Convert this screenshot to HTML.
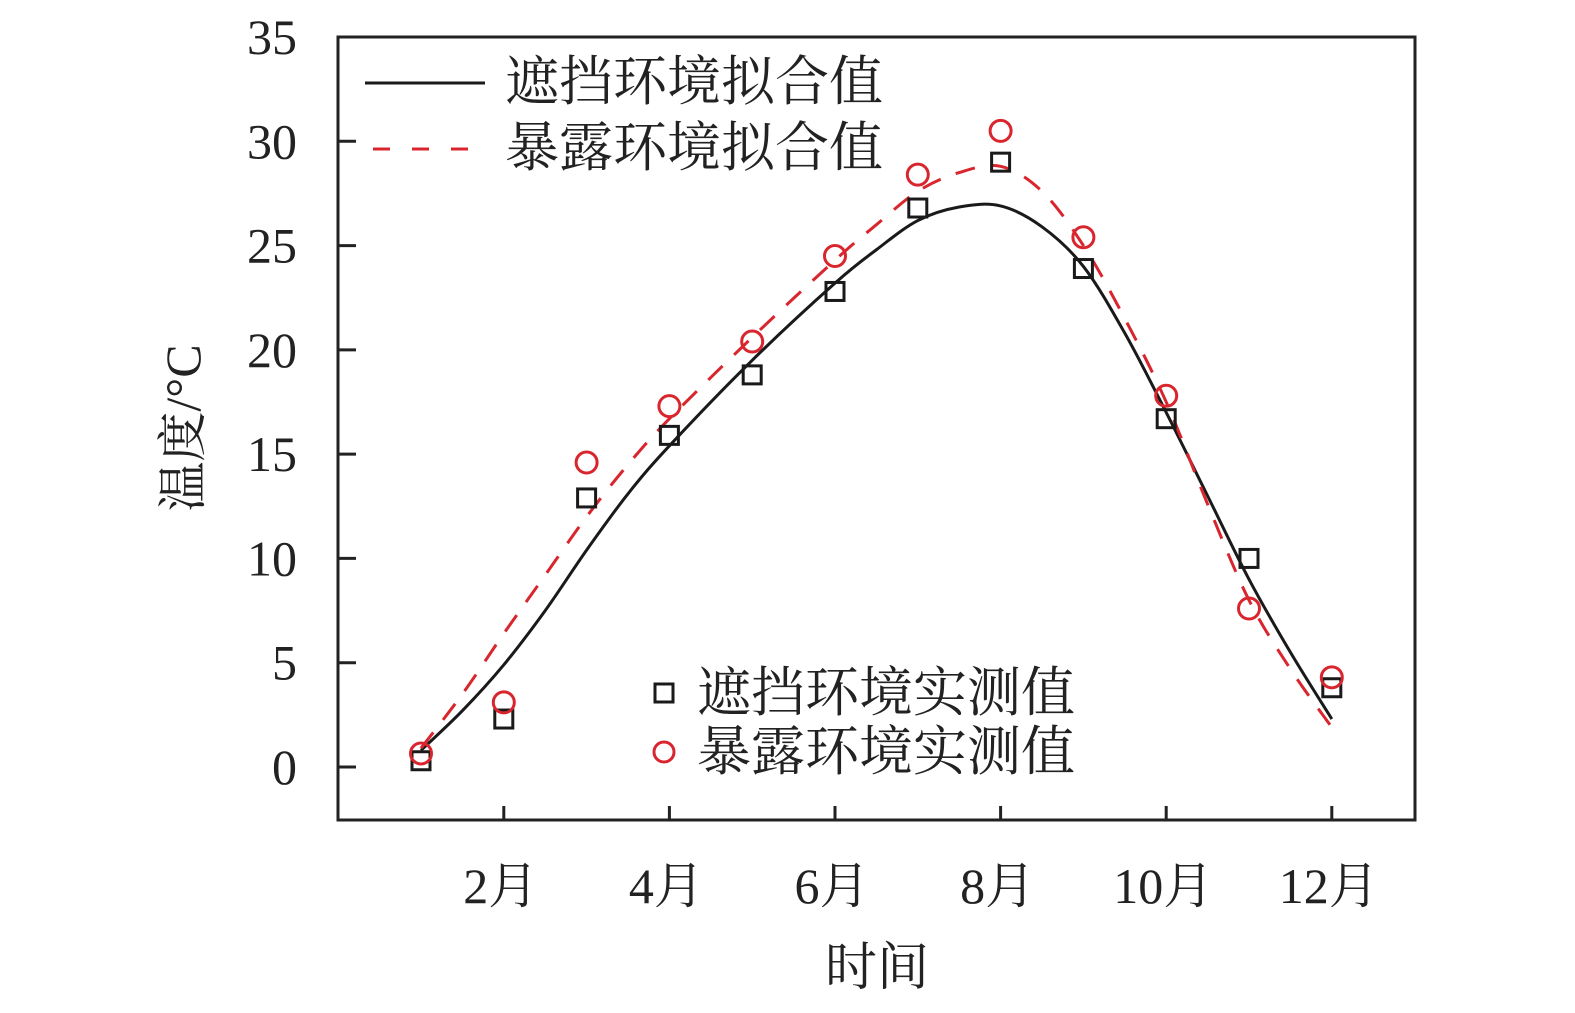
<!DOCTYPE html>
<html><head><meta charset="utf-8">
<style>
html,body{margin:0;padding:0;background:#fff;overflow:hidden;}
svg text{font-family:"Liberation Serif","Noto Serif CJK SC",serif;fill:#222;}
</style></head>
<body>
<svg id="s" width="1575" height="1013" viewBox="0 0 1575 1013" xmlns="http://www.w3.org/2000/svg" style="display:block">
<rect x="338" y="37" width="1077" height="783" fill="none" stroke="#222" stroke-width="3"/>
<g stroke="#222" stroke-width="3" id="ticks"></g>
<g font-size="50" text-anchor="end" id="ylab"></g>
<g font-size="50" text-anchor="middle" id="xlab"></g>
<text x="877" y="985" font-size="52" text-anchor="middle">时间</text>
<text transform="translate(200,428) rotate(-90)" font-size="50" text-anchor="middle">温度/°C</text>
<path id="black" fill="none" stroke="#1a1a1a" stroke-width="3"/>
<path id="red" fill="none" stroke="#d9262e" stroke-width="3" stroke-dasharray="20,16"/>
<g id="pts"></g>
<line x1="365" y1="83" x2="485" y2="83" stroke="#1a1a1a" stroke-width="3"/>
<line x1="373" y1="149" x2="485" y2="149" stroke="#d9262e" stroke-width="3" stroke-dasharray="17,22"/>
<text x="505" y="100" font-size="54">遮挡环境拟合值</text>
<text x="505" y="166" font-size="54">暴露环境拟合值</text>
<rect x="655" y="684" width="18" height="18" fill="none" stroke="#1a1a1a" stroke-width="3"/>
<circle cx="664" cy="752" r="10" fill="none" stroke="#d9262e" stroke-width="3"/>
<text x="697" y="711" font-size="54">遮挡环境实测值</text>
<text x="697" y="770" font-size="54">暴露环境实测值</text>
</svg>
<script>
var NS="http://www.w3.org/2000/svg";
function X(m){return 421+(m-1)*82.8;}
function Y(v){return 767-v*20.857;}
function el(t,a,p){var e=document.createElementNS(NS,t);for(var k in a)e.setAttribute(k,a[k]);document.getElementById(p).appendChild(e);return e;}
for(var v=0;v<=35;v+=5){var y=Y(v);el('line',{x1:338,y1:y,x2:356,y2:y},'ticks');el('text',{x:297,y:y+17},'ylab').textContent=v;}
for(var m=2;m<=12;m+=2){var x=X(m);el('line',{x1:x,y1:820,x2:x,y2:806},'ticks');el('text',{x:x-3,y:903},'xlab').textContent=m+'月';}
function cr(P){var d='M'+P[0][0]+','+P[0][1];for(var i=0;i<P.length-1;i++){var p0=P[i-1]||P[i],p1=P[i],p2=P[i+1],p3=P[i+2]||P[i+1];
d+=' C'+(p1[0]+(p2[0]-p0[0])/6)+','+(p1[1]+(p2[1]-p0[1])/6)+' '+(p2[0]-(p3[0]-p1[0])/6)+','+(p2[1]-(p3[1]-p1[1])/6)+' '+p2[0]+','+p2[1];}return d;}
var b=[[1,0.8],[1.5,2.7],[2,4.9],[2.5,7.5],[3,10.4],[3.5,13.1],[4,15.4],[5,19.5],[6,23.2],[6.5,24.8],[7,26.2],[7.5,26.85],[8,26.9],[8.5,25.9],[9,24.0],[9.5,20.8],[10,17.0],[10.5,13.0],[11,9.0],[11.5,5.5],[12,2.3]];
var r=[[1,0.9],[1.5,3.5],[2,6.4],[2.5,9.2],[3,12.0],[3.5,14.5],[4,16.7],[5,20.6],[6,24.3],[6.5,26.0],[7,27.6],[7.5,28.5],[8,28.8],[8.5,27.6],[9,25.0],[9.5,21.5],[10,17.5],[10.5,12.6],[11,8.0],[11.5,4.7],[12,1.9]];
document.getElementById('black').setAttribute('d',cr(b.map(function(p){return[X(p[0]),Y(p[1])];})));
document.getElementById('red').setAttribute('d',cr(r.map(function(p){return[X(p[0]),Y(p[1])];})));
var sq=[0.3,2.3,12.9,15.9,18.8,22.8,26.8,29.0,23.9,16.7,10.0,3.8];
var ci=[0.65,3.1,14.6,17.3,20.4,24.5,28.4,30.5,25.4,17.8,7.6,4.3];
for(var i=0;i<12;i++){el('rect',{x:X(i+1)-9,y:Y(sq[i])-9,width:18,height:18,fill:'none',stroke:'#1a1a1a','stroke-width':3},'pts');
el('circle',{cx:X(i+1),cy:Y(ci[i]),r:10.5,fill:'none',stroke:'#d9262e','stroke-width':3},'pts');}
</script>
</body></html>
